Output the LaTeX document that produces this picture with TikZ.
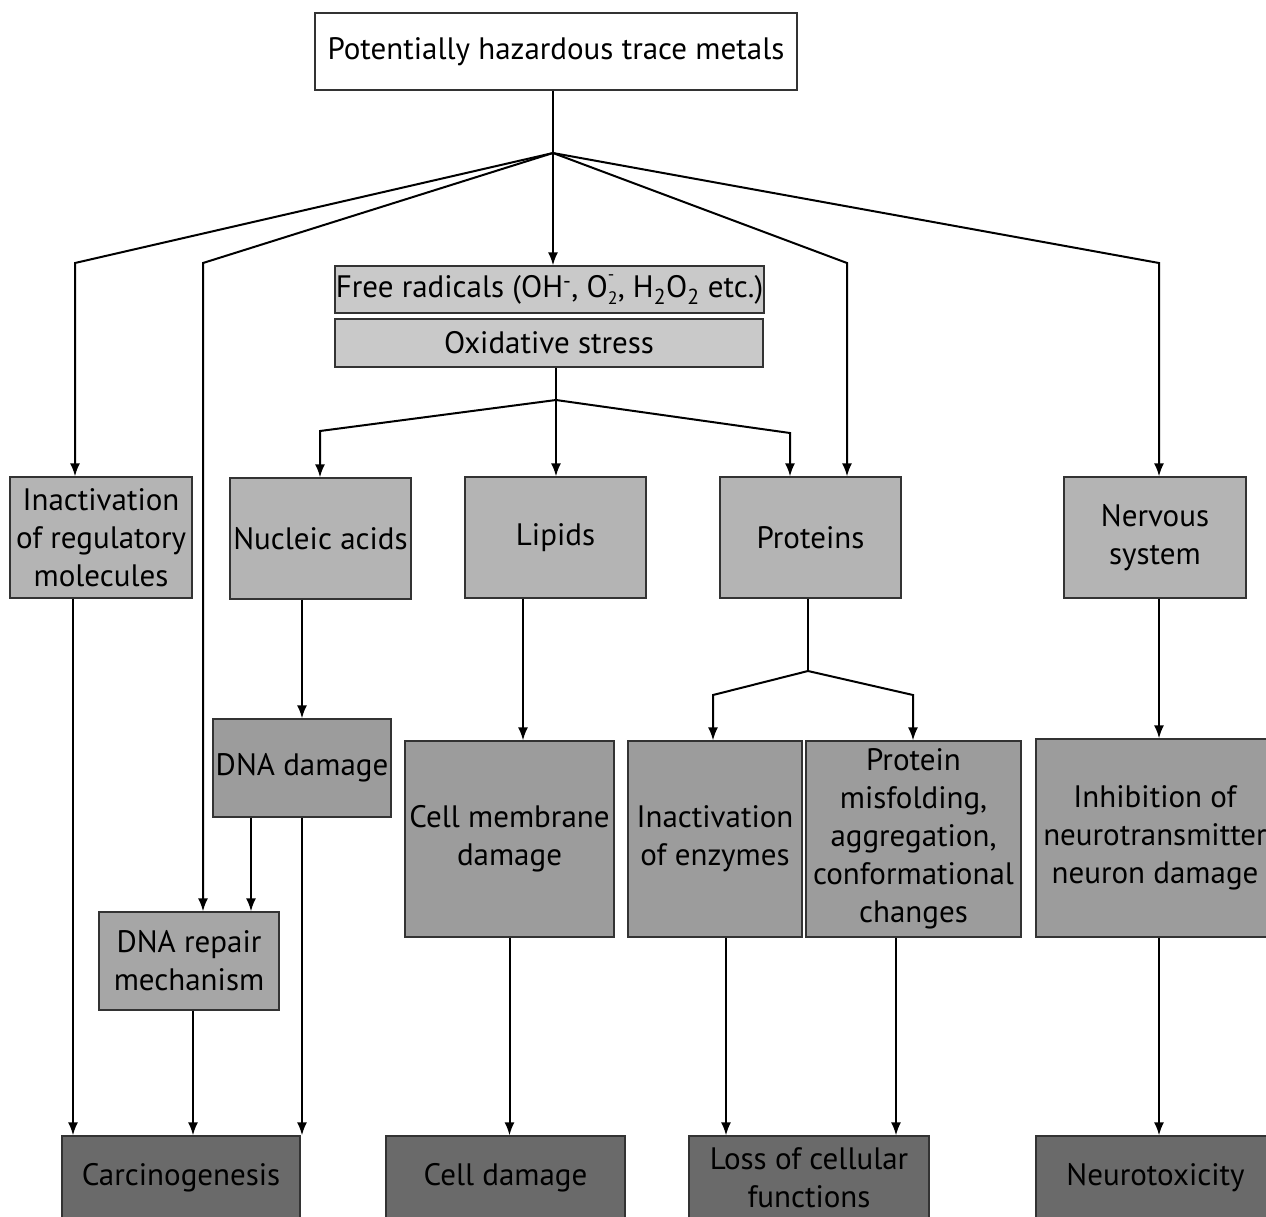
\documentclass[tikz,border=0pt]{standalone}
\usepackage{fontspec}
\setmainfont{PT Sans}
\usetikzlibrary{arrows.meta}
\definecolor{grisclair}{HTML}{C9C9C9}
\definecolor{grisun}{HTML}{B4B4B4}
\definecolor{grisdeux}{HTML}{9C9C9C}
\definecolor{grisrep}{HTML}{A6A6A6}
\definecolor{grisfin}{HTML}{6A6A6A}

\begin{document}
\begin{tikzpicture}[x=1pt, y=-1pt]
 \tikzstyle{boite}=[rectangle, draw=black!80, line width=1.2pt, text=black, align=center, inner sep=0pt, font=\fontsize{31}{38}\selectfont]
 \tikzstyle{estun}=[-{Latex[length=13pt, width=10pt]}, line width=2pt]
 \tikzstyle{trait}=[line width=2pt]
 \useasboundingbox (0,0) rectangle (1266,1216);
 \clip (0,0) rectangle (1266,1216);
 %
 \node[boite, fill=white, minimum width=482pt, minimum height=77pt] (TM) at (556, 51.5) {Potentially hazardous trace metals};
 \node[boite, fill=grisclair, minimum width=429pt, minimum height=47pt] (FR) at (549.5, 289.5) {Free radicals (OH\textsuperscript{-}, O\rlap{\raisebox{1.1ex}{\fontsize{18}{18}\selectfont -}}\raisebox{-0.45ex}{\fontsize{18}{18}\selectfont 2}, H\textsubscript{2}O\textsubscript{2} etc.)};
 \node[boite, fill=grisclair, minimum width=428pt, minimum height=48pt] (OS) at (549, 343) {Oxidative stress};
 %
 \node[boite, fill=grisun, minimum width=182pt, minimum height=121pt] (IRM) at (101, 537.5) {Inactivation\\of regulatory\\molecules};
 \node[boite, fill=grisun, minimum width=181pt, minimum height=121pt] (NA) at (320.5, 538.5) {Nucleic acids};
 \node[boite, fill=grisun, minimum width=181pt, minimum height=121pt] (LI) at (555.5, 537.5) {Lipids};
 \node[boite, fill=grisun, minimum width=181pt, minimum height=121pt] (PR) at (810.5, 537.5) {Proteins};
 \node[boite, fill=grisun, minimum width=182pt, minimum height=121pt] (NS) at (1155, 537.5) {Nervous\\system};
 %
 \node[boite, fill=grisdeux, minimum width=178pt, minimum height=98pt] (DD) at (302, 768) {DNA damage};
 \node[boite, fill=grisrep, minimum width=180pt, minimum height=98pt] (DR) at (189, 961) {DNA repair\\mechanism};
 \node[boite, fill=grisdeux, minimum width=209pt, minimum height=196pt] (CM) at (509.5, 839) {Cell membrane\\damage};
 \node[boite, fill=grisdeux, minimum width=174pt, minimum height=196pt] (IE) at (715, 839) {Inactivation\\of enzymes};
 \node[boite, fill=grisdeux, minimum width=215pt, minimum height=196pt] (PM) at (913.5, 839) {Protein\\misfolding,\\aggregation,\\conformational\\changes};
 \node[boite, fill=grisdeux, minimum width=238pt, minimum height=198pt] (IN) at (1155, 838) {Inhibition of\\neurotransmitter\\neuron damage};
 %
 \node[boite, fill=grisfin, minimum width=238pt, minimum height=84pt] (CA) at (181, 1178) {Carcinogenesis};
 \node[boite, fill=grisfin, minimum width=239pt, minimum height=84pt] (CD) at (505.5, 1178) {Cell damage};
 \node[boite, fill=grisfin, minimum width=240pt, minimum height=84pt] (LC) at (809, 1178) {Loss of cellular\\functions};
 \node[boite, fill=grisfin, minimum width=239pt, minimum height=84pt] (NT) at (1155.5, 1178) {Neurotoxicity};
 %
 \coordinate (hub) at (553, 153);
 \coordinate (kIRM) at (75, 263);
 \coordinate (kDR) at (203, 263);
 \coordinate (kPR) at (847, 263);
 \coordinate (kNS) at (1159, 263);
 \coordinate (hub2) at (556, 400);
 \coordinate (kNA) at (320, 431);
 \coordinate (kPR2) at (790, 433);
 \coordinate (hub3) at (808, 671);
 \coordinate (kIE) at (713, 695);
 \coordinate (kPM) at (913, 695);
 %%
 \draw[trait] (TM.south -| hub) -- (hub);
 \draw[estun] (hub) -- (kIRM) -- (kIRM |- IRM.north);
 \draw[estun] (hub) -- (kDR) -- (kDR |- DR.north);
 \draw[estun] (hub) -- (hub |- FR.north);
 \draw[estun] (hub) -- (kPR) -- (kPR |- PR.north);
 \draw[estun] (hub) -- (kNS) -- (kNS |- NS.north);
 %
 \draw[trait] (OS.south -| hub2) -- (hub2);
 \draw[estun] (hub2) -- (kNA) -- (kNA |- NA.north);
 \draw[estun] (hub2) -- (hub2 |- LI.north);
 \draw[estun] (hub2) -- (kPR2) -- (kPR2 |- PR.north);
 %
 \draw[estun] (NA.south -| DD.north) -- (DD.north);
 \draw[estun] ([xshift=-51pt]DD.south) -- ([xshift=-51pt]DD.south |- DR.north);
 \draw[estun] (DD.south) -- (DD.south |- CA.north);
 \draw[estun] ([xshift=-28pt]IRM.south) -- ([xshift=-28pt]IRM.south |- CA.north);
 \draw[estun] ([xshift=4pt]DR.south) -- ([xshift=4pt]DR.south |- CA.north);
 %
 \draw[estun] ([xshift=-32.5pt]LI.south) -- ([xshift=-32.5pt]LI.south |- CM.north);
 \draw[estun] (CM.south) -- (CM.south |- CD.north);
 %
 \draw[trait] (PR.south -| hub3) -- (hub3);
 \draw[estun] (hub3) -- (kIE) -- (kIE |- IE.north);
 \draw[estun] (hub3) -- (kPM) -- (kPM |- PM.north);
 \draw[estun] ([xshift=11pt]IE.south) -- ([xshift=11pt]IE.south |- LC.north);
 \draw[estun] ([xshift=-17.5pt]PM.south) -- ([xshift=-17.5pt]PM.south |- LC.north);
 %
 \draw[estun] (kNS |- NS.south) -- (kNS |- IN.north);
 \draw[estun] (kNS |- IN.south) -- (kNS |- NT.north);
\end{tikzpicture}
\end{document}
